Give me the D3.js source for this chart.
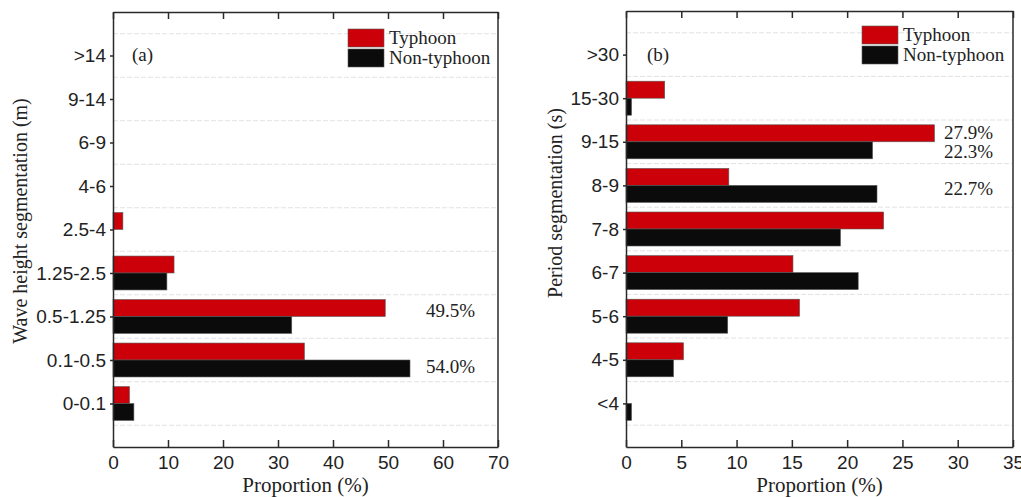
<!DOCTYPE html>
<html>
<head>
<meta charset="utf-8">
<script src="https://cdn.jsdelivr.net/npm/d3@7"></script>
<style>
  body { margin: 0; background: #fff; }
  svg { display: block; font-family: "Liberation Serif", "DejaVu Serif", serif; }
</style>
</head>
<body>
<svg id="chart" width="1021" height="497"></svg>
<script>
// Panel (a): wave height segments
const waveCats = ["0-0.1", "0.1-0.5", "0.5-1.25", "1.25-2.5", "2.5-4", "4-6", "6-9", "9-14", ">14"];
const waveTyphoon = [3.0, 34.8, 49.5, 11.1, 1.8, 0, 0, 0, 0];
const waveNonTyphoon = [3.8, 54.0, 32.5, 9.8, 0, 0, 0, 0, 0];
const waveTicks = [0, 10, 20, 30, 40, 50, 60, 70];

// Panel (b): period segments
const periodCats = ["<4", "4-5", "5-6", "6-7", "7-8", "8-9", "9-15", "15-30", ">30"];
const periodTyphoon = [0, 5.2, 15.7, 15.1, 23.3, 9.3, 27.9, 3.5, 0];
const periodNonTyphoon = [0.5, 4.3, 9.2, 21.0, 19.4, 22.7, 22.3, 0.5, 0];
const periodTicks = [0, 5, 10, 15, 20, 25, 30, 35];

const seriesNames = ["Typhoon", "Non-typhoon"];
const seriesColors = ["#cc0008", "#0b0b0b"];

const svg = d3.select("#chart");

function drawPanel(p) {
  const x = d3.scaleLinear().domain([0, p.xMax]).range([p.left, p.right]);
  // category i sits at position i + 1, frame spans 0..10
  const y = d3.scaleLinear().domain([0, p.cats.length + 1]).range([p.bottom, p.top]);
  const barH = y(0) - y(0.39);
  const g = svg.append("g");

  // dashed separators between categories
  g.append("g")
    .selectAll("line")
    .data(d3.range(0.5, p.cats.length + 1, 1))
    .join("line")
    .attr("x1", p.left).attr("x2", p.right)
    .attr("y1", d => y(d)).attr("y2", d => y(d))
    .attr("stroke", "#e2e2e2")
    .attr("stroke-dasharray", "5,2");

  // bars: typhoon above centre, non-typhoon below
  const series = [p.typhoon, p.nonTyphoon];
  series.forEach((vals, s) => {
    g.append("g")
      .selectAll("rect")
      .data(vals.map((v, i) => ({ v, i })).filter(d => d.v > 0))
      .join("rect")
      .attr("x", x(0))
      .attr("y", d => y(d.i + 1) - (s === 0 ? barH : 0))
      .attr("width", d => x(d.v) - x(0))
      .attr("height", barH)
      .attr("fill", seriesColors[s])
      .attr("stroke", "#5a5a5a")
      .attr("stroke-width", 0.6);
  });

  // axes
  const bottomAxis = g.append("g")
    .attr("transform", `translate(0,${p.bottom})`)
    .call(d3.axisBottom(x).tickValues(p.ticks).tickFormat(d3.format("d"))
      .tickSizeInner(-7).tickSizeOuter(0).tickPadding(9));
  bottomAxis.selectAll("text").attr("font-size", 19).attr("fill", "#222");

  g.append("g")
    .attr("transform", `translate(0,${p.top})`)
    .call(d3.axisTop(x).tickValues(p.ticks).tickFormat("")
      .tickSizeInner(-7).tickSizeOuter(0));

  const leftAxis = g.append("g")
    .attr("transform", `translate(${p.left},0)`)
    .call(d3.axisLeft(y).tickValues(d3.range(1, p.cats.length + 1))
      .tickFormat(d => p.cats[d - 1]).tickSizeInner(3).tickSizeOuter(0).tickPadding(4));
  leftAxis.selectAll("text").attr("font-size", 19).attr("fill", "#222");

  g.append("line")
    .attr("x1", p.right).attr("x2", p.right)
    .attr("y1", p.top).attr("y2", p.bottom);

  g.selectAll(".domain, line").filter(function () { return !this.getAttribute("stroke-dasharray"); })
    .attr("stroke", "#2a2a2a").attr("stroke-width", 1.5);
  g.selectAll(".domain").attr("fill", "none");

  // titles
  g.append("text")
    .attr("x", (p.left + p.right) / 2).attr("y", 492)
    .attr("text-anchor", "middle").attr("font-size", 21).attr("fill", "#222")
    .text("Proportion (%)");

  g.append("text")
    .attr("transform", `translate(${p.titleX},${p.titleY}) rotate(-90)`)
    .attr("text-anchor", "middle").attr("font-size", 20).attr("fill", "#222")
    .text(p.yTitle);

  g.append("text")
    .attr("x", p.left + p.tagDx).attr("y", 61)
    .attr("font-size", 19).attr("fill", "#222")
    .text(p.tag);

  // legend
  const lg = g.append("g").attr("transform", `translate(${p.legendX},${p.legendY})`);
  seriesNames.forEach((name, s) => {
    lg.append("rect")
      .attr("x", 0).attr("y", s * 20)
      .attr("width", 36).attr("height", 18)
      .attr("fill", seriesColors[s]).attr("stroke", "#5a5a5a").attr("stroke-width", 0.6);
    lg.append("text")
      .attr("x", 41).attr("y", s * 20 + 15)
      .attr("font-size", 19).attr("fill", "#222")
      .text(name);
  });

  // value labels
  g.append("g")
    .selectAll("text")
    .data(p.notes)
    .join("text")
    .attr("x", p.right - p.noteInset)
    .attr("y", d => y(d.cat + 1) + d.dy)
    .attr("text-anchor", "end")
    .attr("font-size", 19).attr("fill", "#222")
    .text(d => d.text);
}

drawPanel({
  cats: waveCats, typhoon: waveTyphoon, nonTyphoon: waveNonTyphoon, ticks: waveTicks, xMax: 70,
  left: 113, right: 498, top: 12, bottom: 447,
  yTitle: "Wave height segmentation (m)", titleX: 27, titleY: 221,
  tag: "(a)", tagDx: 19, legendX: 348, legendY: 29,
  noteInset: 23,
  notes: [
    { cat: 2, dy: 0, text: "49.5%" },
    { cat: 1, dy: 13, text: "54.0%" }
  ]
});

drawPanel({
  cats: periodCats, typhoon: periodTyphoon, nonTyphoon: periodNonTyphoon, ticks: periodTicks, xMax: 35,
  left: 626, right: 1013, top: 11, bottom: 447,
  yTitle: "Period segmentation (s)", titleX: 562, titleY: 203,
  tag: "(b)", tagDx: 21, legendX: 862, legendY: 26,
  noteInset: 20,
  notes: [
    { cat: 6, dy: -3, text: "27.9%" },
    { cat: 6, dy: 16, text: "22.3%" },
    { cat: 5, dy: 10, text: "22.7%" }
  ]
});
</script>
</body>
</html>
